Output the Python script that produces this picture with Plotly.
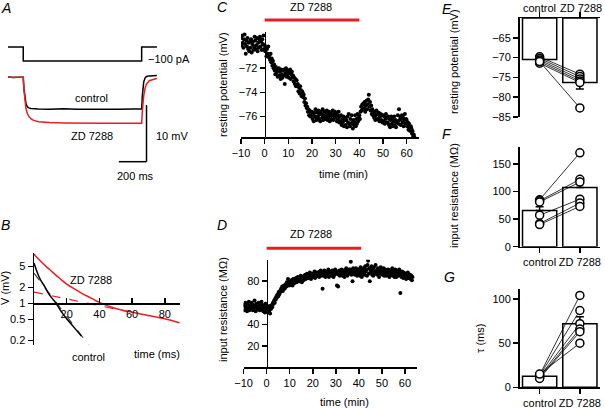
import plotly.graph_objects as go

W, H = 605, 408
RED = "#ec1c24"
FONT = "Liberation Sans, Arial, sans-serif"

# ---- A: current step and voltage responses
step_t = [0, 110, 110, 965, 965, 1075]
step_pa = [0, 0, -100, -100, 0, 0]

trace_t = [0, 40, 80, 110, 115, 120, 125, 130, 140, 150, 165, 185, 220, 300, 400,
           500, 600, 700, 800, 900, 965, 970, 975, 980, 990, 1000, 1020, 1040, 1060, 1075]
ctrl_mv = [0.05, -0.05, 0.0, 0.0, -2.0, -3.4, -4.2, -4.7, -5.2, -5.4, -5.5, -5.55, -5.6, -5.62, -5.55,
           -5.65, -5.6, -5.58, -5.62, -5.6, -5.6, -3.2, -1.6, -0.8, -0.1, 0.15, 0.25, 0.3, 0.25, 0.3]
zd_mv = [0.0, 0.0, 0.0, 0.0, -2.2, -3.8, -4.9, -5.6, -6.4, -6.9, -7.3, -7.6, -7.85, -8.0, -8.05,
         -8.1, -8.1, -8.12, -8.1, -8.1, -8.1, -6.0, -4.3, -3.2, -1.9, -1.2, -0.6, -0.4, -0.3, -0.2]

# ---- B: decay of voltage after the step (log scale)
decay_zd_t = [0, 2, 5, 8.6, 12, 16, 20, 25, 29, 35, 40, 49, 60, 70, 80, 89]
decay_zd_v = [8.5, 7.2, 5.8, 4.6, 3.7, 2.9, 2.31, 1.85, 1.56, 1.25, 1.04, 0.815, 0.676, 0.59, 0.51, 0.43]
fit_zd_t = [0, 57]
fit_zd_v = [1.63, 0.70]
decay_ctrl_t = [0, 1.5, 3, 4.5, 6.5, 9, 12.6, 16.6, 20, 24.9, 29]
decay_ctrl_v = [5.75, 4.2, 3.2, 2.6, 2.09, 1.5, 1.09, 0.706, 0.51, 0.34, 0.24]
fit_ctrl_t = [0, 34]
fit_ctrl_v = [3.7, 0.154]

# ---- C / D: time courses, sampled every 0.25 min from -10 min
T_START, DT = -10, 0.25
rest_mv = [
    -69.5, -70.1, -69.3, -69.9, -70.3, -69.6, -69.2, -70.0,
    -70.8, -69.7, -70.2, -69.5, -70.4, -69.9, -70.6, -69.8,
    -70.3, -69.6, -70.7, -70.0, -69.8, -70.5, -70.2, -69.4,
    -69.7, -70.4, -70.1, -69.5, -70.6, -69.9, -70.3, -69.6,
    -69.4, -70.2, -69.8, -70.5, -69.6, -70.0, -69.3, -70.4,
    -70.1, -70.6, -70.3, -71.0, -70.4, -70.8, -70.2, -71.1,
    -70.9, -71.3, -70.8, -71.5, -71.2, -71.8, -71.4, -72.0,
    -71.7, -72.2, -72.5, -71.9, -72.4, -72.1, -72.7, -72.2,
    -72.0, -72.6, -72.3, -72.9, -72.1, -72.5, -72.8, -72.2,
    -72.6, -72.1, -73.3, -72.4, -72.0, -72.7, -72.3, -72.5,
    -72.2, -72.8, -72.4, -72.1, -72.9, -72.5, -72.3, -72.7,
    -72.6, -73.1, -72.8, -73.3, -72.9, -73.5, -73.0, -73.4,
    -73.3, -73.9, -73.6, -74.1, -73.5, -73.8, -74.3, -73.9,
    -74.0, -74.4, -74.2, -74.8, -74.5, -75.1, -74.9, -75.3,
    -75.2, -75.6, -75.4, -75.9, -75.5, -76.0, -75.7, -75.9,
    -75.6, -76.2, -75.8, -76.4, -75.7, -76.0, -75.4, -76.1,
    -76.3, -75.7, -76.0, -75.5, -76.2, -75.8, -76.4, -75.6,
    -75.8, -76.1, -75.4, -76.3, -75.9, -75.6, -76.2, -75.7,
    -76.0, -75.5, -76.3, -75.8, -76.1, -75.6, -76.4, -75.9,
    -75.7, -76.2, -75.9, -75.5, -76.3, -75.8, -76.0, -75.6,
    -76.1, -75.8, -76.4, -75.9, -76.2, -75.6, -76.5, -76.0,
    -76.4, -75.9, -76.7, -76.2, -76.5, -76.0, -76.8, -76.3,
    -76.1, -76.7, -76.3, -76.9, -76.0, -76.5, -75.8, -76.6,
    -76.8, -76.2, -76.6, -75.9, -76.5, -77.0, -76.3, -76.7,
    -76.5, -75.9, -76.8, -76.2, -76.6, -75.8, -76.4, -76.1,
    -75.9, -76.2, -75.6, -75.2, -75.5, -75.0, -75.4, -74.9,
    -75.3, -74.8, -75.6, -75.1, -74.7, -75.4, -75.0, -74.6,
    -74.2, -75.2, -74.8, -75.5, -75.1, -75.8, -75.4, -75.9,
    -75.6, -76.1, -75.7, -76.3, -75.9, -75.5, -76.2, -75.8,
    -76.2, -75.7, -76.4, -76.0, -75.8, -76.3, -75.9, -76.5,
    -75.9, -76.4, -76.0, -76.6, -76.2, -75.8, -76.5, -76.1,
    -76.5, -76.0, -76.7, -76.2, -76.9, -76.3, -76.0, -76.6,
    -76.2, -76.8, -76.4, -76.0, -76.7, -76.3, -76.9, -76.5,
    -76.4, -75.9, -76.6, -75.4, -76.3, -76.0, -76.7, -76.2,
    -75.9, -76.5, -76.1, -76.8, -76.3, -75.8, -76.6, -76.2,
    -76.3, -76.8, -76.5, -77.1, -76.6, -76.9, -77.2, -76.8,
    -77.0, -77.4, -77.2, -77.6, -77.5, -77.7,
]
rin_mohm = [
    58, 53, 57, 60, 54, 56, 52, 59,
    55, 61, 53, 57, 58, 54, 60, 56,
    53, 58, 55, 62, 57, 52, 59, 55,
    57, 54, 60, 56, 53, 58, 55, 61,
    54, 58, 52, 57, 55, 51, 59, 56,
    53, 56, 51, 55, 52, 57, 50, 54,
    55, 58, 56, 60, 59, 62, 60, 64,
    63, 66, 65, 68, 66, 70, 68, 71,
    70, 73, 72, 75, 71, 74, 76, 73,
    74, 77, 75, 79, 76, 82, 78, 76,
    80, 77, 79, 81, 78, 76, 82, 79,
    78, 82, 80, 83, 79, 81, 84, 80,
    83, 80, 82, 85, 81, 79, 84, 82,
    81, 85, 83, 86, 82, 84, 87, 83,
    86, 83, 85, 88, 84, 82, 87, 85,
    84, 87, 86, 89, 83, 86, 88, 85,
    88, 85, 87, 84, 89, 86, 90, 85,
    87, 73, 88, 85, 90, 86, 84, 89,
    85, 88, 86, 91, 84, 87, 89, 86,
    88, 85, 90, 87, 84, 89, 86, 91,
    87, 89, 76, 88, 75, 86, 90, 85,
    88, 86, 91, 87, 85, 90, 88, 84,
    89, 86, 92, 88, 85, 90, 87, 91,
    88, 91, 98, 86, 89, 80, 92, 87,
    90, 86, 89, 92, 87, 85, 91, 88,
    87, 91, 85, 93, 88, 84, 90, 86,
    92, 88, 86, 94, 89, 91, 85, 95,
    99, 87, 92, 80, 90, 88, 94, 86,
    91, 85, 93, 89, 87, 95, 88, 90,
    86, 92, 89, 84, 91, 87, 93, 88,
    90, 86, 88, 92, 85, 89, 91, 87,
    85, 89, 86, 91, 88, 84, 90, 87,
    89, 86, 92, 85, 88, 90, 84, 91,
    87, 84, 90, 86, 89, 85, 91, 88,
    69, 87, 84, 89, 86, 83, 88, 85,
    84, 87, 82, 86, 85, 88, 83, 86,
    83, 86, 82, 85, 81, 84,
]
time_c = [T_START + DT * i for i in range(len(rest_mv))]
time_d = [T_START + DT * i for i in range(len(rin_mohm))]
drug_c = [0, 40]
drug_d = [0, 41]

# ---- E / F / G: group summaries and single cells
groups = ["control", "ZD 7288"]
e_mean, e_sem = [-70.5, -76.3], [0.5, 1.6]
e_ctrl = [-69.8, -70.2, -70.6, -71.0, -71.4, -71.0]
e_zd = [-74.2, -74.8, -75.4, -75.9, -76.3, -82.7]
f_mean, f_sem = [65.5, 107], [7, 12]
f_ctrl = [85, 83, 81, 57, 42, 40]
f_zd = [170, 122, 117, 86, 79, 73]
g_mean, g_sem = [12.5, 72], [2, 8]
g_ctrl = [14, 13, 12, 11, 10, 15]
g_zd = [104, 87, 72, 66, 63, 50]


def xd(a, b):
    return [a / W, b / W]


def yd(top, bottom):
    return [1 - bottom / H, 1 - top / H]


fig = go.Figure()

# A
fig.add_trace(go.Scatter(x=step_t, y=step_pa, mode="lines", line=dict(color="black", width=1.5),
                         xaxis="x", yaxis="y"))
fig.add_trace(go.Scatter(x=trace_t, y=ctrl_mv, mode="lines", line=dict(color="black", width=1.5),
                         xaxis="x2", yaxis="y2"))
fig.add_trace(go.Scatter(x=trace_t, y=zd_mv, mode="lines", line=dict(color=RED, width=1.5),
                         xaxis="x2", yaxis="y2"))

# B
fig.add_trace(go.Scatter(x=fit_zd_t, y=fit_zd_v, mode="lines", line=dict(color=RED, width=1.2, dash="dash"),
                         xaxis="x3", yaxis="y3"))
fig.add_trace(go.Scatter(x=decay_zd_t, y=decay_zd_v, mode="lines", line=dict(color=RED, width=1.5, shape="spline"),
                         xaxis="x3", yaxis="y3"))
fig.add_trace(go.Scatter(x=fit_ctrl_t, y=fit_ctrl_v, mode="lines", line=dict(color="#444", width=1.2, dash="dash"),
                         xaxis="x3", yaxis="y3"))
fig.add_trace(go.Scatter(x=decay_ctrl_t, y=decay_ctrl_v, mode="lines", line=dict(color="black", width=1.5, shape="spline"),
                         xaxis="x3", yaxis="y3"))

# C, D
fig.add_trace(go.Scatter(x=time_c, y=rest_mv, mode="markers", marker=dict(color="black", size=4),
                         xaxis="x4", yaxis="y4"))
fig.add_trace(go.Scatter(x=time_d, y=rin_mohm, mode="markers", marker=dict(color="black", size=4),
                         xaxis="x5", yaxis="y5"))


def summary(xa, ya, mean, sem, ctrl, zd, base=None, down=False):
    if base is None:
        fig.add_trace(go.Bar(x=groups, y=mean, width=0.85, xaxis=xa, yaxis=ya,
                             marker=dict(color="white", line=dict(color="black", width=1.5))))
    else:
        fig.add_trace(go.Bar(x=groups, y=[m - base for m in mean], base=base, width=0.85, xaxis=xa, yaxis=ya,
                             marker=dict(color="white", line=dict(color="black", width=1.5))))
    err = dict(type="data", symmetric=False, color="black", thickness=1.5, width=4)
    if down:
        err.update(array=[0, 0], arrayminus=sem)
    else:
        err.update(array=sem, arrayminus=[0, 0])
    fig.add_trace(go.Scatter(x=groups, y=mean, mode="markers", marker=dict(size=1, color="rgba(0,0,0,0)"),
                             error_y=err, xaxis=xa, yaxis=ya))
    px, py = [], []
    for c, z in zip(ctrl, zd):
        px += [groups[0], groups[1], None]
        py += [c, z, None]
    fig.add_trace(go.Scatter(x=px, y=py, mode="lines", line=dict(color="black", width=0.8),
                             xaxis=xa, yaxis=ya))
    fig.add_trace(go.Scatter(x=[groups[0]] * len(ctrl) + [groups[1]] * len(zd), y=ctrl + zd, mode="markers",
                             marker=dict(symbol="circle", size=8, color="white", line=dict(color="black", width=1.5)),
                             xaxis=xa, yaxis=ya))


summary("x6", "y6", e_mean, e_sem, e_ctrl, e_zd, base=-60, down=True)
summary("x7", "y7", f_mean, f_sem, f_ctrl, f_zd)
summary("x8", "y8", g_mean, g_sem, g_ctrl, g_zd)

axline = dict(showline=True, linecolor="black", linewidth=1.5, showgrid=False, zeroline=False,
              automargin=False, tickangle=0,
              ticks="outside", ticklen=5, tickwidth=1.5, tickcolor="black",
              tickfont=dict(family=FONT, size=11, color="black"))
hidden = dict(visible=False, showgrid=False, zeroline=False, automargin=False)


def minus(vals):
    return [str(v).replace("-", "\u2212") for v in vals]


fig.update_layout(
    template="none",
    width=W, height=H, margin=dict(l=0, r=0, t=0, b=0, pad=0), autosize=False,
    paper_bgcolor="white", plot_bgcolor="white", showlegend=False,
    font=dict(family=FONT, size=11, color="black"),
    xaxis=dict(domain=xd(8, 190), range=[0, 1314], anchor="y", **hidden),
    yaxis=dict(domain=yd(40, 70), range=[-164, 50], anchor="x", **hidden),
    xaxis2=dict(domain=xd(8, 190), range=[0, 1314], anchor="y2", **hidden),
    yaxis2=dict(domain=yd(70, 180), range=[-18.13, 1.29], anchor="x2", **hidden),
    xaxis3=dict(domain=xd(34, 180), range=[0, 89.3], anchor="free", position=1 - 303.3 / H,
                tickvals=[20, 40, 60, 80], **{**axline, "ticks": "inside"}),
    yaxis3=dict(domain=yd(253, 345), type="log", range=[-0.787, 0.949], anchor="x3",
                tickvals=[0.2, 0.5, 1, 2, 5], ticktext=["0.2", "0.5", "1", "2", "5"], **axline),
    xaxis4=dict(domain=xd(241, 418.5), range=[-10, 65], anchor="y4",
                tickvals=list(range(-10, 61, 10)), ticktext=minus(range(-10, 61, 10)), **axline),
    yaxis4=dict(domain=yd(32, 137), range=[-77.7, -69.0], anchor="free", position=264.7 / W,
                tickvals=[-76, -74, -72], ticktext=minus([-76, -74, -72]), **axline),
    xaxis5=dict(domain=xd(243.6, 416.5), range=[-10, 65], anchor="y5",
                tickvals=list(range(-10, 61, 10)), ticktext=minus(range(-10, 61, 10)), **axline),
    yaxis5=dict(domain=yd(259.7, 367.3), range=[0, 100], anchor="free", position=266.7 / W,
                tickvals=[20, 40, 80], **axline),
    xaxis6=dict(domain=xd(519.5, 600), type="category", range=[-0.5, 1.5], anchor="y6", side="top",
                **{**axline, "showticklabels": False}),
    yaxis6=dict(domain=yd(18, 117), range=[-85, -60], anchor="x6",
                tickvals=[-85, -80, -75, -70, -65], ticktext=minus([-85, -80, -75, -70, -65]), **axline),
    xaxis7=dict(domain=xd(519.5, 600), type="category", range=[-0.5, 1.5], anchor="y7", **axline),
    yaxis7=dict(domain=yd(147.3, 246.7), range=[0, 180], anchor="x7", tickvals=[0, 50, 100, 150], **axline),
    xaxis8=dict(domain=xd(519.5, 600), type="category", range=[-0.5, 1.5], anchor="y8", **axline),
    yaxis8=dict(domain=yd(289.3, 387.3), range=[0, 111], anchor="x8", tickvals=[0, 50, 100], **axline),
)

# scale bars (A) and drug application bars (C, D)
fig.add_shape(type="line", xref="x2", yref="y2", x0=1000, x1=1000, y0=-4.9, y1=-14.9,
              line=dict(color="black", width=1.5))
fig.add_shape(type="line", xref="x2", yref="y2", x0=800, x1=1000, y0=-14.9, y1=-14.9,
              line=dict(color="black", width=1.5))
fig.add_shape(type="line", xref="x4", yref="paper", x0=drug_c[0], x1=drug_c[1], y0=1 - 20 / H, y1=1 - 20 / H,
              line=dict(color=RED, width=3))
fig.add_shape(type="line", xref="x5", yref="paper", x0=drug_d[0], x1=drug_d[1], y0=1 - 248.3 / H, y1=1 - 248.3 / H,
              line=dict(color=RED, width=3))


def label(text, x, y, size=11, angle=0, italic=False, xanchor="center"):
    fig.add_annotation(text=text, x=x / W, y=1 - y / H, xref="paper", yref="paper", showarrow=False,
                       xanchor=xanchor, yanchor="middle", textangle=angle,
                       font=dict(family=FONT, size=size, color="black", style="italic" if italic else "normal"))


for letter, lx, ly in [("A", 6, 8), ("B", 5, 225), ("C", 222, 7), ("D", 222, 225),
                       ("E", 447, 9), ("F", 447, 134), ("G", 449, 277)]:
    label(letter, lx, ly, size=14, italic=True)

label("\u2212100 pA", 146, 59, xanchor="left")
label("control", 92, 98)
label("ZD 7288", 92, 136)
label("10 mV", 172, 136)
label("200 ms", 135, 176)

label("ZD 7288", 91, 280)
label("control", 88, 357)
label("time (ms)", 157, 354)
label("V (mV)", 5, 288, angle=-90)

label("ZD 7288", 311, 7)
label("resting potential (mV)", 223, 85, angle=-90)
label("time (min)", 343, 174)

label("ZD 7288", 311, 234)
label("input resistance (M\u03a9)", 223, 310, angle=-90)
label("time (min)", 344, 402)

# E group names sit above its top axis
label(groups[0], 539, 8)
label(groups[1], 581, 8)
label("resting potential (mV)", 454, 62, angle=-90)
label("input resistance (M\u03a9)", 454, 196, angle=-90)
label("\u03c4 (ms)", 480, 339, angle=-90)

# the page's default body margin would push the figure off the window
fig.write_html("out.html", config={"staticPlot": True},
               post_script="document.body.style.margin='0';document.body.style.overflow='hidden';")
